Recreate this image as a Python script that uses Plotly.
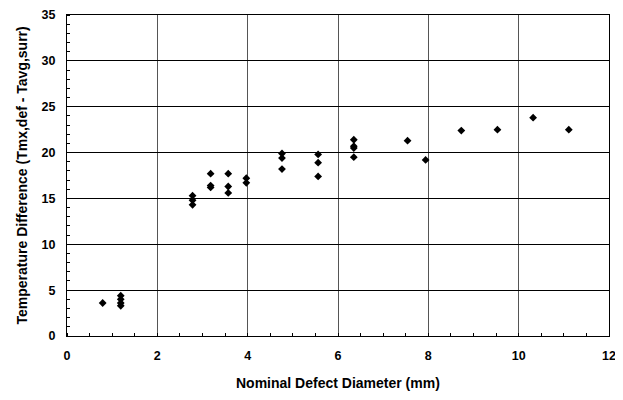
import plotly.graph_objects as go

diameter_mm = [0.79, 1.19, 1.19, 1.19, 1.19,
               2.78, 2.78, 2.78,
               3.18, 3.18, 3.18,
               3.57, 3.57, 3.57,
               3.97, 3.97,
               4.76, 4.76, 4.76,
               5.56, 5.56, 5.56,
               6.35, 6.35, 6.35, 6.35,
               7.54, 7.94, 8.73, 9.53, 10.32, 11.11]
temp_diff = [3.6, 4.4, 4.0, 3.6, 3.3,
             15.3, 14.8, 14.3,
             17.7, 16.4, 16.2,
             17.7, 16.3, 15.6,
             17.2, 16.7,
             19.9, 19.4, 18.2,
             19.8, 18.9, 17.4,
             21.4, 20.7, 20.5, 19.5,
             21.3, 19.2, 22.4, 22.5, 23.8, 22.5]

x_ticks = [0, 2, 4, 6, 8, 10, 12]
y_ticks = [0, 5, 10, 15, 20, 25, 30, 35]
x_title = "Nominal Defect Diameter (mm)"
y_title = "Temperature Difference (Tmx,def - Tavg,surr)"

fig = go.Figure(go.Scatter(
    x=diameter_mm, y=temp_diff, mode="markers",
    marker=dict(symbol="diamond", size=6, color="black"),
))

font = dict(family="Liberation Sans, Arial, sans-serif", size=12.5, color="black")
title_font = dict(family="Liberation Sans, Arial, sans-serif", size=14, color="black")
fig.update_layout(
    width=615, height=392,
    margin=dict(l=59, r=14, t=7, b=64, autoexpand=False),
    plot_bgcolor="white", paper_bgcolor="white",
    showlegend=False,
    font=font,
    annotations=[
        dict(text=f"<b>{x_title}</b>", xref="paper", yref="paper", x=0.5, y=0,
             yshift=-47, xanchor="center", yanchor="middle", showarrow=False,
             font=title_font),
        dict(text=f"<b>{y_title}</b>", xref="paper", yref="paper", x=0, y=0.5,
             xshift=-46, xanchor="center", yanchor="middle", textangle=-90,
             showarrow=False, font=title_font),
    ],
)
fig.update_xaxes(
    range=[0, 12], tickvals=x_ticks, ticktext=[f"<b>{v}</b>" for v in x_ticks],
    showgrid=True, gridcolor="#555", gridwidth=1,
    showline=True, linecolor="black", linewidth=1, mirror=True,
    ticks="", ticklabelstandoff=8, automargin=False,
    minor=dict(dtick=0.5, ticks="inside", ticklen=3, tickcolor="black"),
    zeroline=False,
)
fig.update_yaxes(
    range=[0, 35], tickvals=y_ticks, ticktext=[f"<b>{v}</b>" for v in y_ticks],
    showgrid=True, gridcolor="black", gridwidth=1,
    showline=True, linecolor="black", linewidth=1, mirror=True,
    ticks="", ticklabelstandoff=8, automargin=False,
    minor=dict(dtick=1, ticks="inside", ticklen=3, tickcolor="black"),
    zeroline=False,
)

fig.write_html("out.html")
